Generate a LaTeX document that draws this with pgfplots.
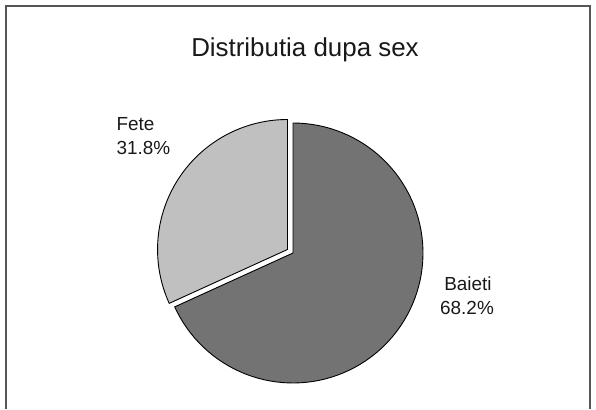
\documentclass[border=0pt]{standalone}
\usepackage{fontspec}
\setmainfont{Liberation Sans}
\usepackage{pgfplots}
\usepackage{pgfplotstable}
\pgfplotsset{compat=1.18}

\definecolor{boygray}{RGB}{115,115,115}
\definecolor{girlgray}{RGB}{192,192,192}
\definecolor{framegray}{RGB}{85,85,85}

\pgfplotstableread{
label  value
Fete   31.8
Baieti 68.2
}\piedata

% wedge angles from the shares (start at 12 o'clock)
\pgfplotstablegetelem{0}{value}\of\piedata \let\vfete\pgfplotsretval
\pgfplotstablegetelem{1}{value}\of\piedata \let\vbaieti\pgfplotsretval
\pgfmathsetmacro\afete{90+3.6*\vfete}
\pgfmathsetmacro\amid{(90+\afete)/2}
\def\cx{293}\def\cy{156}\def\r{130}
\pgfmathsetmacro\ex{\cx+6.5*cos(\amid)}
\pgfmathsetmacro\ey{\cy+6.5*sin(\amid)}

\begin{document}
\begin{tikzpicture}
\begin{axis}[
  scale only axis, width=596bp, height=409bp,
  xmin=0, xmax=596, ymin=0, ymax=409,
  hide axis, clip=false,
]
\path[draw=none] (0,0) rectangle (596,409);
\draw[framegray, line width=1.3pt] (6,0) -- (6,403) -- (590,403) -- (590,0);

% Baieti
\addplot[fill=boygray, draw=black, line width=0.9pt, domain=\afete:450, samples=90]
  ({\cx+\r*cos(x)}, {\cy+\r*sin(x)}) -- (\cx,\cy) -- cycle;
% Fete (pulled out)
\addplot[fill=girlgray, draw=black, line width=0.9pt, domain=90:\afete, samples=50]
  ({\ex+\r*cos(x)}, {\ey+\r*sin(x)}) -- (\ex,\ey) -- cycle;

\node[anchor=base, font=\fontsize{26}{30}\selectfont, text=black!90] at (305,352) {Distributia dupa sex};

\node[anchor=base west, font=\fontsize{19}{22}\selectfont, text=black!90] at (113,278) {Fete};
\node[anchor=base west, font=\fontsize{19}{22}\selectfont, text=black!90] at (113,254) {\vfete\%};
\node[anchor=base, font=\fontsize{19}{22}\selectfont, text=black!90] at (468,119) {Baieti};
\node[anchor=base, font=\fontsize{19}{22}\selectfont, text=black!90] at (467,95) {\vbaieti\%};
\end{axis}
\end{tikzpicture}
\end{document}
